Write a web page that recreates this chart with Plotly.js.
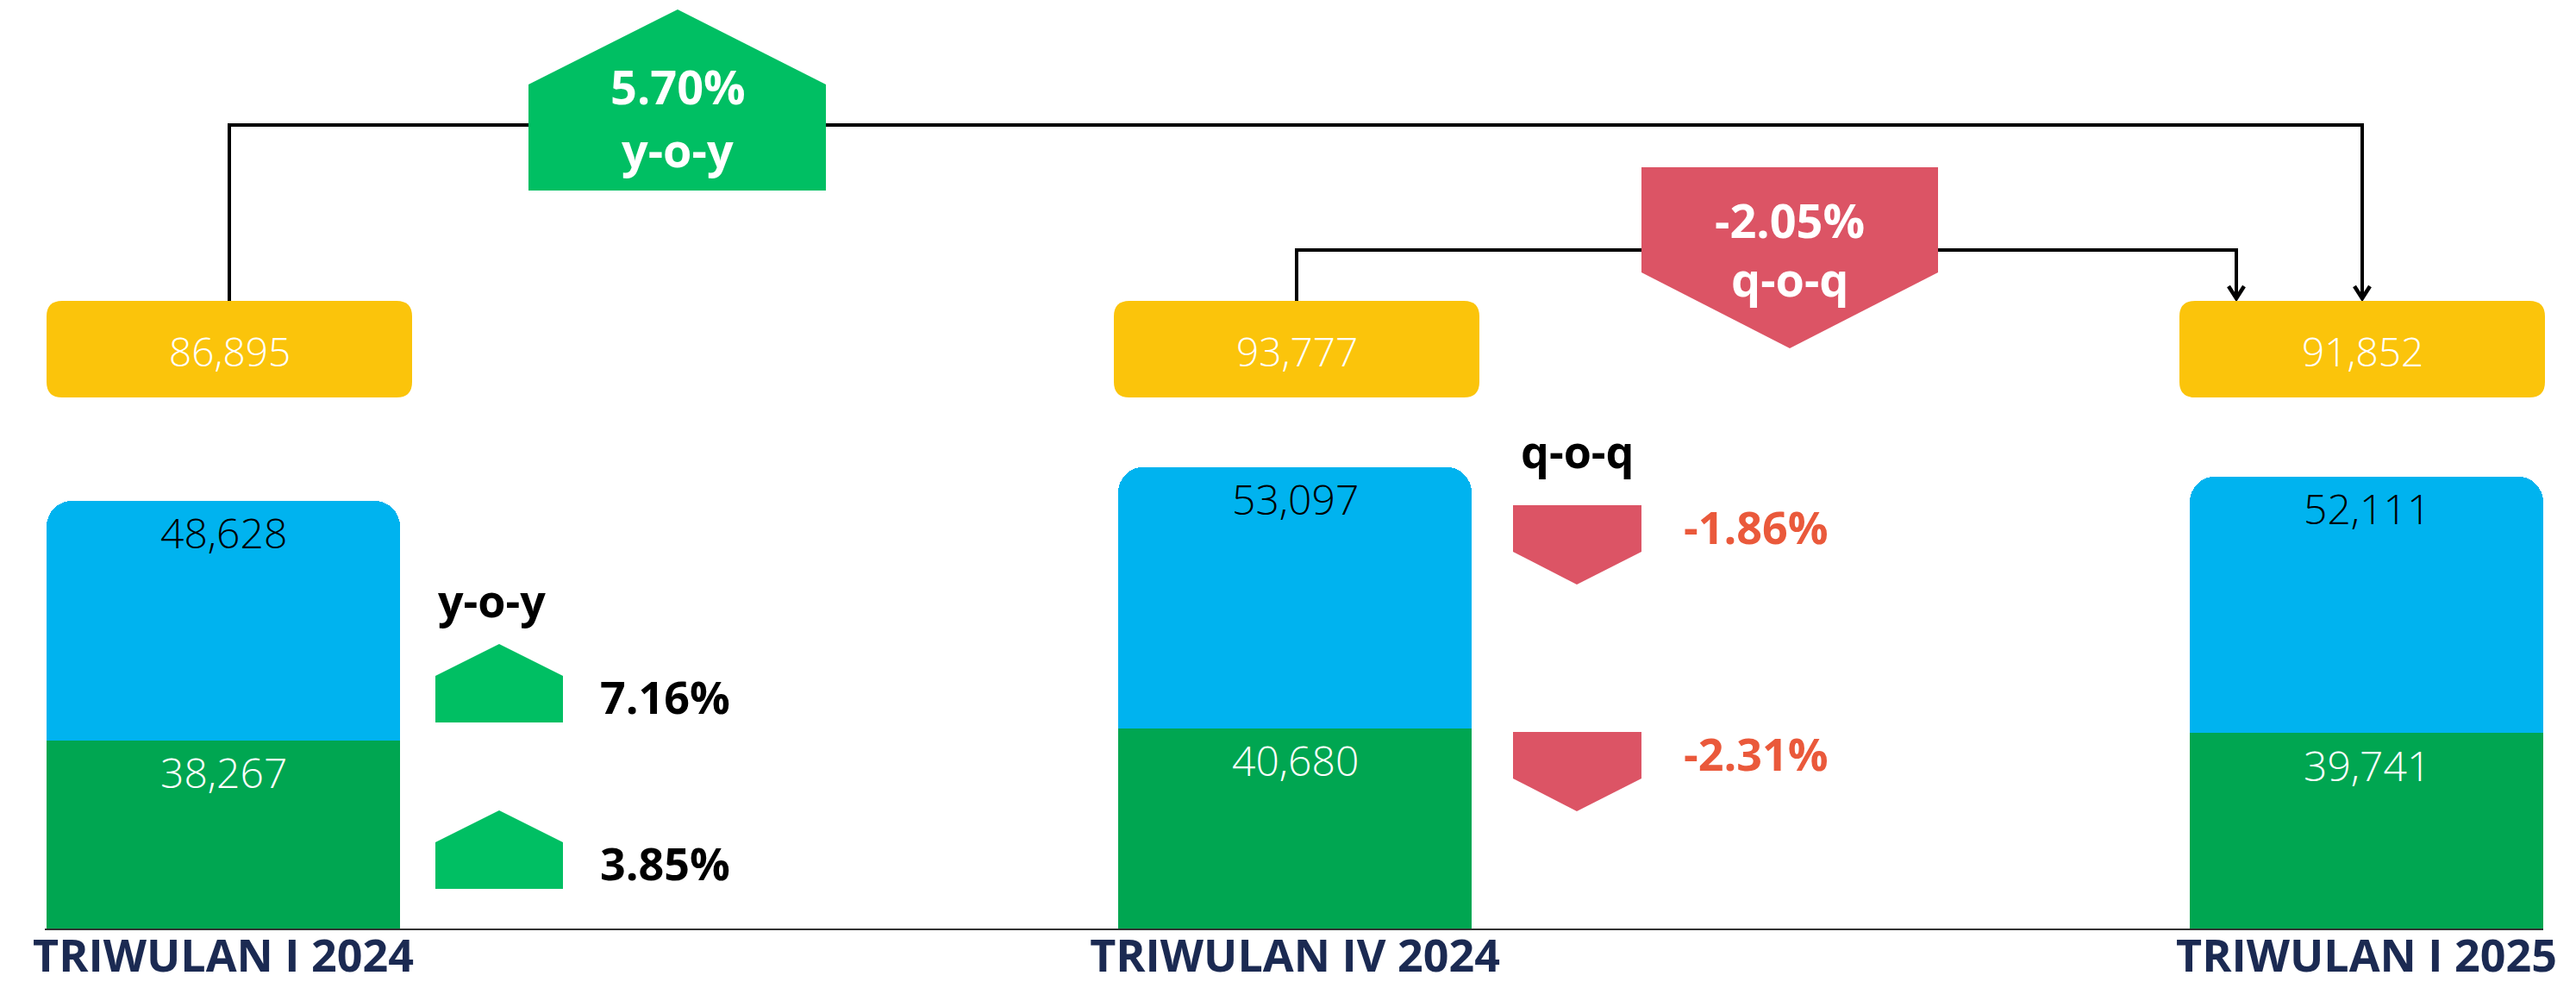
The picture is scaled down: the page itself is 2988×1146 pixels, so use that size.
<!DOCTYPE html>
<html><head><meta charset="utf-8">
<script src="https://cdn.plot.ly/plotly-3.0.1.min.js"></script>
<style>html,body{margin:0;padding:0;background:#fff;}#chart{width:2988px;height:1146px;}</style>
</head><body><div id="chart"></div>
<script>
// ---------- data ----------
const categories = ['TRIWULAN I 2024', 'TRIWULAN IV 2024', 'TRIWULAN I 2025'];
const seriesBlue = [48628, 53097, 52111];
const seriesGreen = [38267, 40680, 39741];
const totals = [86895, 93777, 91852];
const yoyTotalPct = 5.70;
const qoqTotalPct = -2.05;
const yoySeriesPct = [7.16, 3.85];   // blue, green
const qoqSeriesPct = [-1.86, -2.31]; // blue, green

// ---------- layout constants ----------
const W = 2988, H = 1146;
const ML = 52, MR = 38, MT = 0, MB = 69;
const PW = W - ML - MR, PH = H - MT - MB;
const STEP = 1243;                  // px per category
const XMIN = -(259 - ML) / STEP;
const XMAX = XMIN + PW / STEP;
const YMAX = PH / 0.00571;

const X = p => (p - ML) / PW;
const Y = p => (H - MB - p) / PH;
const cx = i => ML + (i - XMIN) * STEP;
const fmt = v => v.toLocaleString('en-US');
const pct = v => v.toFixed(2) + '%';

const C = {
  blue: '#00b3ef', green: '#00a651', house: '#00bf63', red: '#dc5465',
  redText: '#ea593b', yellow: '#fbc40b', navy: '#1b2a52'
};
const FONT = '"Open Sans", "Noto Sans", sans-serif';

function poly(pts) {
  return 'M ' + pts.map(p => X(p[0]) + ',' + Y(p[1])).join(' L ') + ' Z';
}
function openPath(pts) {
  return 'M ' + pts.map(p => X(p[0]) + ',' + Y(p[1])).join(' L ');
}
function roundRect(x0, y0, x1, y1, r) {
  const P = (a, b) => X(a) + ',' + Y(b);
  return `M ${P(x0 + r, y0)} L ${P(x1 - r, y0)} Q ${P(x1, y0)} ${P(x1, y0 + r)} L ${P(x1, y1 - r)} Q ${P(x1, y1)} ${P(x1 - r, y1)} L ${P(x0 + r, y1)} Q ${P(x0, y1)} ${P(x0, y1 - r)} L ${P(x0, y0 + r)} Q ${P(x0, y0)} ${P(x0 + r, y0)} Z`;
}

// ---------- traces ----------
const traces = [
  { type: 'bar', x: categories, y: seriesGreen, width: 0.33, marker: { color: C.green },
    hoverinfo: 'skip', name: 'green' },
  { type: 'bar', x: categories, y: seriesBlue, width: 0.33, marker: { color: C.blue },
    hoverinfo: 'skip', name: 'blue' }
];

// ---------- shapes ----------
const shapes = [];
const annotations = [];
const BOX_T = 349, BOX_B = 461, BOX_W = 424;
const boxShift = [7, 2, -5];
const boxC = i => cx(i) + boxShift[i];

// connectors (drawn first, under houses)
const lineStyle = { color: '#000', width: 4 };
const yoyY = 145, qoqY = 290;
const qoqArrowX = cx(2) - 151;
shapes.push({ type: 'path', xref: 'paper', yref: 'paper', line: lineStyle, fillcolor: 'rgba(0,0,0,0)',
  path: openPath([[boxC(0), BOX_T], [boxC(0), yoyY], [boxC(2), yoyY], [boxC(2), BOX_T - 3]]) });
shapes.push({ type: 'path', xref: 'paper', yref: 'paper', line: lineStyle, fillcolor: 'rgba(0,0,0,0)',
  path: openPath([[boxC(1), BOX_T], [boxC(1), qoqY], [qoqArrowX, qoqY], [qoqArrowX, BOX_T - 3]]) });
[boxC(2), qoqArrowX].forEach(ax => {
  shapes.push({ type: 'path', xref: 'paper', yref: 'paper', line: { color: '#000', width: 4.5 },
    fillcolor: 'rgba(0,0,0,0)',
    path: openPath([[ax - 9, BOX_T - 17], [ax, BOX_T - 3], [ax + 9, BOX_T - 17]]) });
});

// yellow total boxes
totals.forEach((t, i) => {
  const c = boxC(i);
  shapes.push({ type: 'path', xref: 'paper', yref: 'paper', line: { width: 0 }, fillcolor: C.yellow,
    path: roundRect(c - BOX_W / 2, BOX_T, c + BOX_W / 2, BOX_B, 18) });
  annotations.push({ xref: 'paper', yref: 'paper', x: X(c), y: Y(407), text: fmt(t), showarrow: false,
    xanchor: 'center', yanchor: 'middle', font: { family: FONT, size: 46, color: '#fff', weight: 300 } });
});

// big houses
shapes.push({ type: 'path', xref: 'paper', yref: 'paper', line: { width: 0 }, fillcolor: C.house,
  path: poly([[613, 221], [613, 98], [786, 11], [958, 98], [958, 221]]) });
shapes.push({ type: 'path', xref: 'paper', yref: 'paper', line: { width: 0 }, fillcolor: C.red,
  path: poly([[1904, 194], [2248, 194], [2248, 316], [2076, 404], [1904, 316]]) });
const bigFont = { family: FONT, size: 54, color: '#fff', weight: 700 };
annotations.push({ xref: 'paper', yref: 'paper', x: X(786), y: Y(100), text: pct(yoyTotalPct), showarrow: false,
  xanchor: 'center', yanchor: 'middle', font: bigFont });
annotations.push({ xref: 'paper', yref: 'paper', x: X(786), y: Y(173), text: 'y-o-y', showarrow: false,
  xanchor: 'center', yanchor: 'middle', font: bigFont });
annotations.push({ xref: 'paper', yref: 'paper', x: X(2076), y: Y(255), text: pct(qoqTotalPct), showarrow: false,
  xanchor: 'center', yanchor: 'middle', font: bigFont });
annotations.push({ xref: 'paper', yref: 'paper', x: X(2076), y: Y(323), text: 'q-o-q', showarrow: false,
  xanchor: 'center', yanchor: 'middle', font: bigFont });

// small houses + labels
const labFont = { family: FONT, size: 52, color: '#000', weight: 700 };
annotations.push({ xref: 'paper', yref: 'paper', x: X(570), y: Y(695), text: 'y-o-y', showarrow: false,
  xanchor: 'center', yanchor: 'middle', font: labFont });
annotations.push({ xref: 'paper', yref: 'paper', x: X(1830), y: Y(522), text: 'q-o-q', showarrow: false,
  xanchor: 'center', yanchor: 'middle', font: labFont });
const upTops = [747, 940];
yoySeriesPct.forEach((v, k) => {
  const t = upTops[k];
  shapes.push({ type: 'path', xref: 'paper', yref: 'paper', line: { width: 0 }, fillcolor: C.house,
    path: poly([[505, t + 91], [505, t + 37], [579, t], [653, t + 37], [653, t + 91]]) });
  annotations.push({ xref: 'paper', yref: 'paper', x: X(694), y: Y(t + 60), text: pct(v), showarrow: false,
    xanchor: 'left', yanchor: 'middle', font: labFont });
});
const downTops = [586, 849];
qoqSeriesPct.forEach((v, k) => {
  const t = downTops[k];
  shapes.push({ type: 'path', xref: 'paper', yref: 'paper', line: { width: 0 }, fillcolor: C.red,
    path: poly([[1755, t], [1904, t], [1904, t + 54], [1829, t + 92], [1755, t + 54]]) });
  annotations.push({ xref: 'paper', yref: 'paper', x: X(1951), y: Y(t + 24), text: pct(v), showarrow: false,
    xanchor: 'left', yanchor: 'middle', font: Object.assign({}, labFont, { color: C.redText }) });
});

// bar value labels
categories.forEach((c, i) => {
  annotations.push({ xref: 'x', yref: 'y', x: c, y: seriesGreen[i] + seriesBlue[i], yshift: -37,
    text: fmt(seriesBlue[i]), showarrow: false, xanchor: 'center', yanchor: 'middle',
    font: { family: FONT, size: 48, color: '#000', weight: 300 } });
  annotations.push({ xref: 'x', yref: 'y', x: c, y: seriesGreen[i], yshift: -37,
    text: fmt(seriesGreen[i]), showarrow: false, xanchor: 'center', yanchor: 'middle',
    font: { family: FONT, size: 48, color: '#fff', weight: 300 } });
});

const layout = {
  width: W, height: H,
  margin: { l: ML, r: MR, t: MT, b: MB, pad: 0 },
  paper_bgcolor: '#fff', plot_bgcolor: '#fff',
  barmode: 'stack', barcornerradius: 30, showlegend: false,
  xaxis: { type: 'category', range: [XMIN, XMAX], showgrid: false, zeroline: false,
    showline: true, linecolor: '#333', linewidth: 2, ticks: '', automargin: false,
    ticklabelstandoff: -14,
    tickfont: { family: FONT, size: 52, color: C.navy, weight: 700 }, fixedrange: true },
  yaxis: { range: [0, YMAX], visible: false, showgrid: false, zeroline: false, fixedrange: true },
  shapes: shapes, annotations: annotations
};

Plotly.newPlot('chart', traces, layout, { staticPlot: true, displayModeBar: false });
</script>
</body></html>
